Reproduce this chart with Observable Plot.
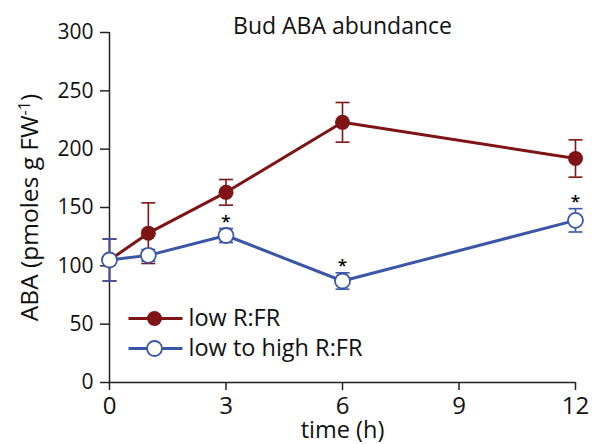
<!DOCTYPE html>
<html>
<head>
<meta charset="utf-8">
<script src="https://cdn.jsdelivr.net/npm/d3@7"></script>
<script src="https://cdn.jsdelivr.net/npm/@observablehq/plot@0.6"></script>
<style>
  body { margin: 0; background: #fff; }
  #chart svg { display: block; }
</style>
</head>
<body>
<div id="chart"></div>
<script>
// Bud ABA abundance after shade (low R:FR) vs. transfer back to high R:FR
const times = [0, 1, 3, 6, 12];
const lowRFR = [105, 128, 163, 223, 192];
const lowRFRErr = [18, 26, 11, 17, 16];
const lowToHigh = [105, 109, 126, 87, 139];
const lowToHighErr = [18, 5, 6, 7, 10];
const significant = [false, false, true, true, true];
const seriesNames = ["low R:FR", "low to high R:FR"];
const seriesColors = ["#7e1416", "#3b56a8"];
const xTicks = [0, 3, 6, 9, 12];
const yTicks = [0, 50, 100, 150, 200, 250, 300];
const title = "Bud ABA abundance";
const xLabel = "time (h)";
const yLabelParts = ["ABA (pmoles g FW", "-1", ")"];

const red = times.map((t, i) => ({t, v: lowRFR[i], e: lowRFRErr[i]}));
const blue = times.map((t, i) => ({t, v: lowToHigh[i], e: lowToHighErr[i], sig: significant[i]}));

// short horizontal segment used for error-bar caps and legend lines
const segment = half => ({draw(ctx) { ctx.moveTo(-half, 0); ctx.lineTo(half, 0); }});
const cap = segment(7);
const legendLine = segment(27);

const axisColor = "#222";
const textColor = "#111";

function seriesMarks(rows, color, filled) {
  return [
    Plot.ruleX(rows, {x: "t", y1: d => d.v - d.e, y2: d => d.v + d.e, stroke: color, strokeWidth: 1.6}),
    Plot.dot(rows, {x: "t", y: d => d.v + d.e, symbol: cap, stroke: color, strokeWidth: 1.6, fill: "none"}),
    Plot.dot(rows, {x: "t", y: d => d.v - d.e, symbol: cap, stroke: color, strokeWidth: 1.6, fill: "none"}),
    Plot.line(rows, {x: "t", y: "v", stroke: color, strokeWidth: 3}),
    Plot.dot(rows, {x: "t", y: "v", r: 7.5, fill: filled ? color : "white",
      stroke: color, strokeWidth: filled ? 0 : 1.8})
  ];
}

function legendMarks(i, dy, filled) {
  const color = seriesColors[i];
  return [
    Plot.dot([0], {frameAnchor: "bottom-left", dx: 46, dy, symbol: legendLine, stroke: color, strokeWidth: 3, fill: "none"}),
    Plot.dot([0], {frameAnchor: "bottom-left", dx: 45, dy, r: 7.5, fill: filled ? color : "white",
      stroke: color, strokeWidth: filled ? 0 : 1.8}),
    Plot.text([seriesNames[i]], {frameAnchor: "bottom-left", dx: 79, dy, text: d => d,
      textAnchor: "start", lineAnchor: "middle", fontSize: 23.5, fill: textColor})
  ];
}

const chart = Plot.plot({
  width: 596,
  height: 444,
  marginLeft: 109,
  marginRight: 21,
  marginTop: 32,
  marginBottom: 62,
  style: {fontFamily: "'Open Sans', Lato, sans-serif", background: "#fff", color: textColor},
  x: {domain: [0, 12]},
  y: {domain: [0, 300]},
  marks: [
    Plot.ruleX([0], {stroke: axisColor, strokeWidth: 1.5}),
    Plot.ruleY([0], {stroke: axisColor, strokeWidth: 1.5}),
    Plot.axisY({ticks: yTicks, tickSize: 9, tickPadding: 7, fontSize: 21, label: null, stroke: axisColor, strokeWidth: 1.5}),
    Plot.axisX({ticks: xTicks, tickSize: 8, tickPadding: 6, fontSize: 24, label: null, stroke: axisColor, strokeWidth: 1.5}),
    ...seriesMarks(red, seriesColors[0], true),
    ...seriesMarks(blue, seriesColors[1], false),
    Plot.text(blue.filter(d => d.sig), {x: "t", y: d => d.v + d.e, text: () => "*", dy: -7,
      fontSize: 17, fontWeight: 600, fill: "#000"}),
    ...legendMarks(0, -64, true),
    ...legendMarks(1, -34, false),
    Plot.text([title], {frameAnchor: "top", dy: -6, lineAnchor: "middle", text: d => d, fontSize: 23, fill: textColor}),
    Plot.text([xLabel], {frameAnchor: "bottom", dy: 48, lineAnchor: "middle", text: d => d, fontSize: 23.5, fill: textColor}),
    Plot.text([yLabelParts.join("")], {frameAnchor: "left", dx: -79, rotate: -90, textAnchor: "middle",
      lineAnchor: "middle", text: d => d, fontSize: 24.5, fill: textColor})
  ]
});

// y-axis title: set "-1" as a superscript
const fullLabel = yLabelParts.join("");
for (const node of chart.querySelectorAll("text")) {
  if (node.textContent === fullLabel) {
    const sel = d3.select(node);
    sel.text(null);
    sel.append("tspan").text(yLabelParts[0]);
    sel.append("tspan").attr("dy", -8).attr("font-size", 16).text(yLabelParts[1]);
    sel.append("tspan").attr("dy", 8).text(yLabelParts[2]);
  }
}

document.getElementById("chart").append(chart);
</script>
</body>
</html>
